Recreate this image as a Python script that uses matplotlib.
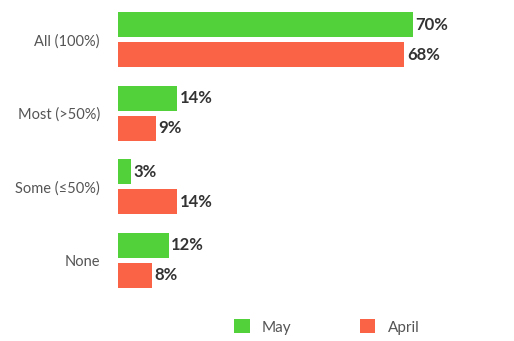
import matplotlib.pyplot as plt
import numpy as np

categories = ["All (100%)", "Most (>50%)", "Some (\u226450%)", "None"]
may = [70, 14, 3, 12]
april = [68, 9, 14, 8]

green = "#52d13a"
red = "#fb6347"

plt.rcParams['font.family'] = ['Lato', 'DejaVu Sans']

fig = plt.figure(figsize=(5.14, 3.41), dpi=100)
ax = fig.add_axes([118 / 514, 1 - 297 / 341, 1 - 118 / 514, 294 / 341])

y = np.arange(len(categories))
h = 0.34
off = 0.204
b1 = ax.barh(y - off, may, height=h, color=green, label="May")
b2 = ax.barh(y + off, april, height=h, color=red, label="April")

for bars, vals in ((b1, may), (b2, april)):
    for bar, v in zip(bars, vals):
        ax.text(bar.get_width() + 0.6, bar.get_y() + bar.get_height() / 2,
                f"{v}%", va="center", ha="left", fontsize=12,
                fontweight="bold", color="#333333")

ax.set_ylim(3.5, -0.5)
ax.set_xlim(0, 94)
ax.set_yticks(y)
ax.set_yticklabels(categories, fontsize=10.5, color="#555555")
ax.tick_params(axis="y", length=0, pad=13)
ax.set_xticks([])
for s in ax.spines.values():
    s.set_visible(False)

fig.legend(handles=[b1, b2], loc="center", bbox_to_anchor=(0.636, 0.041),
           ncol=2, frameon=False, fontsize=11, handlelength=1.0,
           handleheight=1.0, columnspacing=4.5, labelcolor="#555555")

fig.savefig("out.png", dpi=100)
